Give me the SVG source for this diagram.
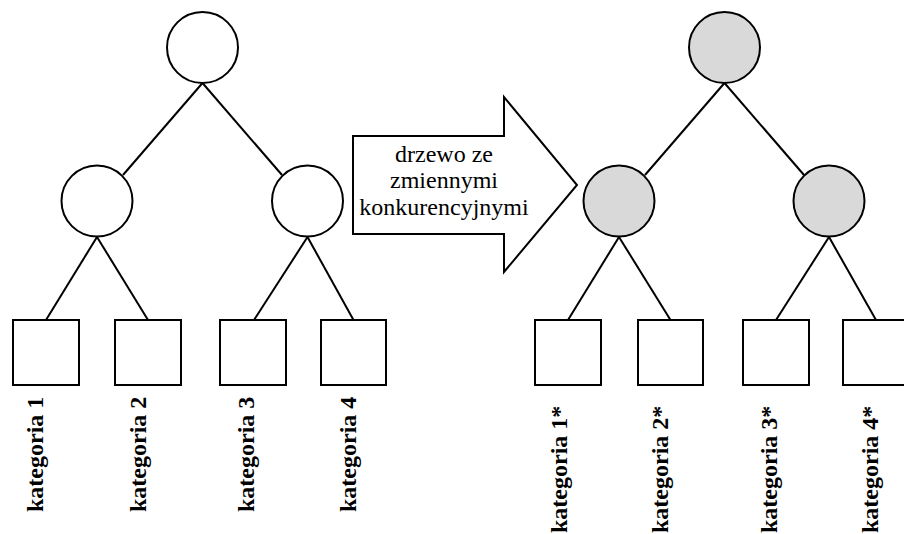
<svg xmlns="http://www.w3.org/2000/svg" width="904" height="534" viewBox="0 0 904 534">
<style>
.e{stroke:#000;stroke-width:2;fill:none}
.n{stroke:#000;stroke-width:2;fill:#fff}
.g{stroke:#000;stroke-width:2;fill:#d9d9d9}
.lbl{font-family:"Liberation Serif",serif;font-weight:bold;font-size:24px;fill:#000}
.at{font-family:"Liberation Serif",serif;font-size:24px;fill:#000;text-anchor:middle}
</style>
<rect width="904" height="534" fill="#fff"/>
<g id="connectors">
<line class="e" x1="202.5" y1="83" x2="123" y2="175"/>
<line class="e" x1="202.5" y1="83" x2="282" y2="175"/>
<line class="e" x1="97" y1="237" x2="46" y2="320"/>
<line class="e" x1="97" y1="237" x2="148" y2="320"/>
<line class="e" x1="307.5" y1="237" x2="254" y2="320"/>
<line class="e" x1="307.5" y1="237" x2="353.5" y2="320"/>
<line class="e" x1="724.5" y1="83" x2="645" y2="175"/>
<line class="e" x1="724.5" y1="83" x2="804" y2="175"/>
<line class="e" x1="619" y1="237" x2="568" y2="320"/>
<line class="e" x1="619" y1="237" x2="670.5" y2="320"/>
<line class="e" x1="829" y1="237" x2="776" y2="320"/>
<line class="e" x1="829" y1="237" x2="876" y2="320"/>
</g>
<g id="L-root"><circle class="n" cx="202.5" cy="47.5" r="35.5"/></g>
<g id="L-a"><circle class="n" cx="97" cy="201" r="35.5"/></g>
<g id="L-b"><circle class="n" cx="307.5" cy="201" r="35.5"/></g>
<g id="L-k1"><rect class="n" x="13" y="320" width="66" height="65"/><text class="lbl" transform="translate(43,512) rotate(-90)">kategoria 1</text></g>
<g id="L-k2"><rect class="n" x="115" y="320" width="66" height="65"/><text class="lbl" transform="translate(146,512) rotate(-90)">kategoria 2</text></g>
<g id="L-k3"><rect class="n" x="220" y="320" width="66" height="65"/><text class="lbl" transform="translate(254,512) rotate(-90)">kategoria 3</text></g>
<g id="L-k4"><rect class="n" x="321" y="320" width="65" height="65"/><text class="lbl" transform="translate(356,512) rotate(-90)">kategoria 4</text></g>
<g id="arrow">
<polygon class="n" points="353,136 504,136 504,97 577,185 504,272 504,234 353,234"/>
<text class="at" x="444" y="162">drzewo ze</text>
<text class="at" x="444" y="188">zmiennymi</text>
<text class="at" x="444" y="215">konkurencyjnymi</text>
</g>
<g id="R-root"><circle class="g" cx="724.5" cy="47.5" r="35.5"/></g>
<g id="R-a"><circle class="g" cx="619" cy="201" r="35.5"/></g>
<g id="R-b"><circle class="g" cx="829" cy="201" r="35.5"/></g>
<g id="R-k1"><rect class="n" x="535" y="320" width="66" height="65"/><text class="lbl" transform="translate(567,533) rotate(-90)">kategoria 1*</text></g>
<g id="R-k2"><rect class="n" x="638" y="320" width="65" height="65"/><text class="lbl" transform="translate(668,533) rotate(-90)">kategoria 2*</text></g>
<g id="R-k3"><rect class="n" x="743" y="320" width="66" height="65"/><text class="lbl" transform="translate(777,533) rotate(-90)">kategoria 3*</text></g>
<g id="R-k4"><rect class="n" x="843" y="320" width="66" height="65"/><text class="lbl" transform="translate(878,533) rotate(-90)">kategoria 4*</text></g>
</svg>
